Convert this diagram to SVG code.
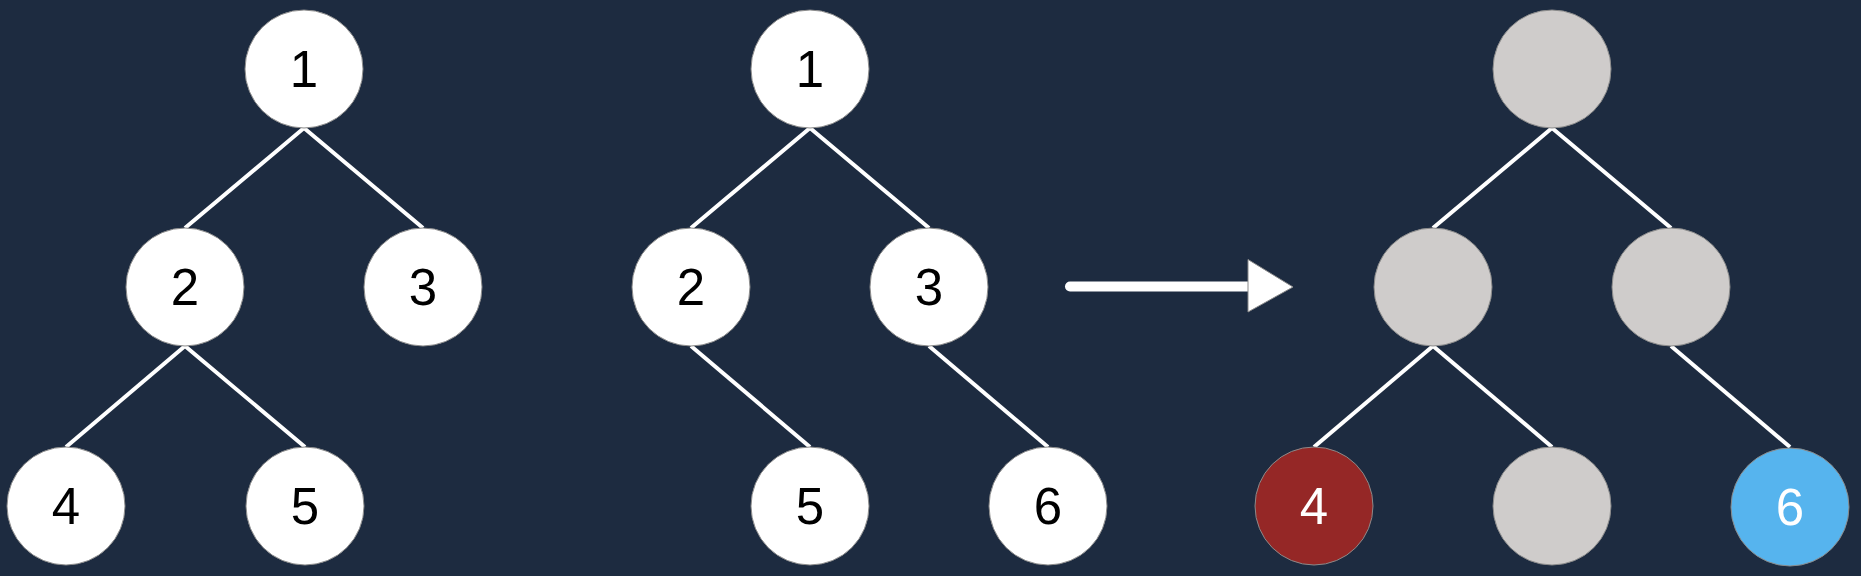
<svg xmlns="http://www.w3.org/2000/svg" width="1861" height="576" viewBox="0 0 1861 576">
  <style>
    .n circle { stroke: #8a8a8a; stroke-width: 1; }
    .w circle { fill: #ffffff; }
    .g circle { fill: #cfcccb; }
    .r circle { fill: #952726; }
    .b circle { fill: #56b4ee; }
    .n text { font-family: "Liberation Sans", Arial, sans-serif; font-size: 51px; text-anchor: middle; fill: #000000; }
    .r text, .b text { fill: #ffffff; }
    .edges line { stroke: #ffffff; stroke-width: 4; }
    .edges line.arrow { stroke-width: 10; stroke-linecap: round; }
  </style>
  <rect width="1861" height="576" fill="#1d2b40"/>
  <g id="connectors" class="edges">
    <line x1="304" y1="128" x2="185" y2="228"/>
    <line x1="304" y1="128" x2="423" y2="228"/>
    <line x1="185" y1="346" x2="66" y2="447"/>
    <line x1="185" y1="346" x2="305" y2="447"/>

    <line x1="810" y1="128" x2="691" y2="228"/>
    <line x1="810" y1="128" x2="929" y2="228"/>
    <line x1="691" y1="346" x2="810" y2="447"/>
    <line x1="929" y1="346" x2="1048" y2="447"/>

    <line x1="1552" y1="128" x2="1433" y2="228"/>
    <line x1="1552" y1="128" x2="1671" y2="228"/>
    <line x1="1433" y1="346" x2="1314" y2="447"/>
    <line x1="1433" y1="346" x2="1552" y2="447"/>
    <line x1="1671" y1="346" x2="1790" y2="447"/>

    <line class="arrow" x1="1070" y1="286.5" x2="1250" y2="286.5"/>
    <polygon points="1248,259.5 1293,287 1248,312" fill="#ffffff" stroke="#8a8a8a" stroke-width="1"/>
  </g>

  <g id="t1n1" class="n w"><circle cx="304" cy="69" r="59"/><text x="304" y="87">1</text></g>
  <g id="t1n2" class="n w"><circle cx="185" cy="287" r="59"/><text x="185" y="305">2</text></g>
  <g id="t1n3" class="n w"><circle cx="423" cy="287" r="59"/><text x="423" y="305">3</text></g>
  <g id="t1n4" class="n w"><circle cx="66" cy="506" r="59"/><text x="66" y="524">4</text></g>
  <g id="t1n5" class="n w"><circle cx="305" cy="506" r="59"/><text x="305" y="524">5</text></g>

  <g id="t2n1" class="n w"><circle cx="810" cy="69" r="59"/><text x="810" y="87">1</text></g>
  <g id="t2n2" class="n w"><circle cx="691" cy="287" r="59"/><text x="691" y="305">2</text></g>
  <g id="t2n3" class="n w"><circle cx="929" cy="287" r="59"/><text x="929" y="305">3</text></g>
  <g id="t2n5" class="n w"><circle cx="810" cy="506" r="59"/><text x="810" y="524">5</text></g>
  <g id="t2n6" class="n w"><circle cx="1048" cy="506" r="59"/><text x="1048" y="524">6</text></g>

  <g id="t3n1" class="n g"><circle cx="1552" cy="69" r="59"/></g>
  <g id="t3n2" class="n g"><circle cx="1433" cy="287" r="59"/></g>
  <g id="t3n3" class="n g"><circle cx="1671" cy="287" r="59"/></g>
  <g id="t3n4" class="n r"><circle cx="1314" cy="506" r="59"/><text x="1314" y="524">4</text></g>
  <g id="t3n5" class="n g"><circle cx="1552" cy="506" r="59"/></g>
  <g id="t3n6" class="n b"><circle cx="1790" cy="507" r="59"/><text x="1790" y="525">6</text></g>
</svg>
